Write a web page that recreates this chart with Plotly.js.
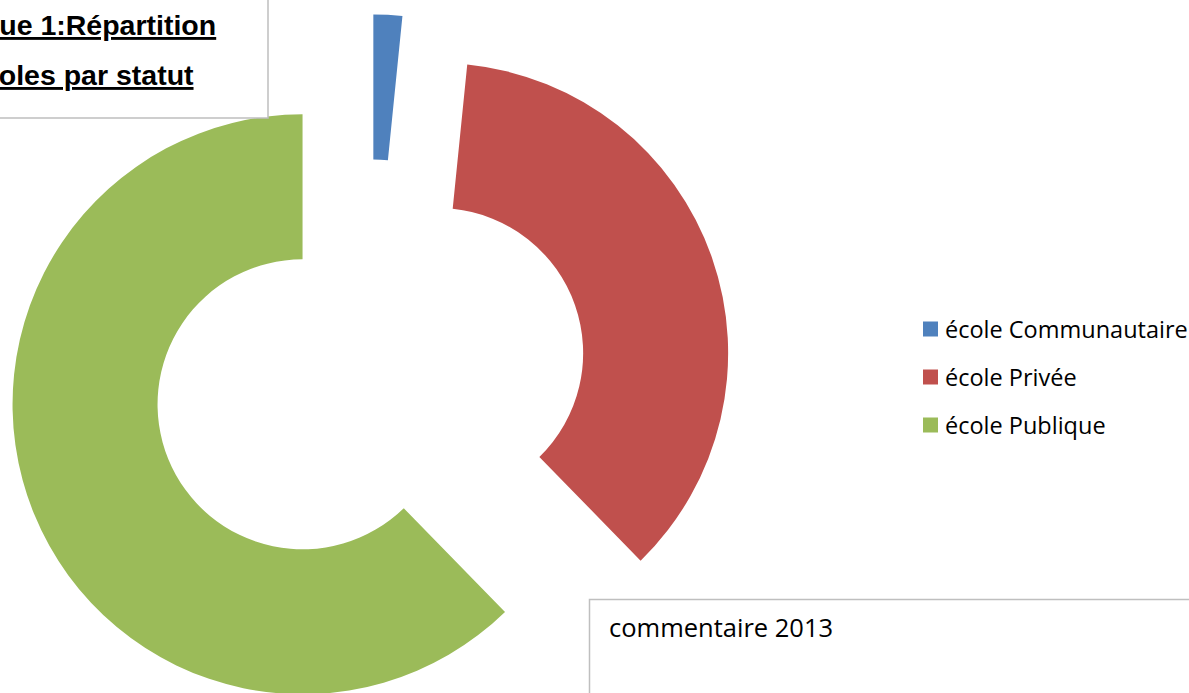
<!DOCTYPE html>
<html>
<head>
<meta charset="utf-8">
<script src="https://cdn.plot.ly/plotly-3.0.1.min.js"></script>
<style>
  html, body { margin: 0; padding: 0; overflow: hidden; background: #fff; }
  #chart { width: 1189px; height: 760px; }
</style>
</head>
<body>
<div id="chart"></div>
<script>
// ---- data ----
const categories = ["école Communautaire", "école Privée", "école Publique"];
const values = [1.6, 36.1, 62.3];
const colors = ["#4F81BD", "#C0504D", "#9BBB59"];
const titleLines = ["Graphique 1:Répartition", "des écoles par statut"];
const commentText = "commentaire 2013";

// ---- layout helpers (pixel -> paper) ----
const W = 1189, H = 760;
const px = v => v / W;
const py = v => 1 - v / H;

// pie box: centre (370,377), radius 290, pull 0.25
const cx = 369.7, cy = 377, R = 290, PULL = 0.25;
const half = R * (1 + PULL);

const trace = {
  type: "pie",
  labels: categories,
  values: values,
  marker: { colors: colors, line: { width: 0 } },
  hole: 0.5,
  sort: false,
  direction: "clockwise",
  rotation: 0,
  pull: categories.map(() => PULL),
  textinfo: "none",
  hoverinfo: "label+percent",
  domain: { x: [px(cx - half), px(cx + half)], y: [py(cy + half), py(cy - half)] },
  showlegend: false
};

const shapes = [
  // title box
  { type: "rect", xref: "paper", yref: "paper", layer: "above",
    x0: px(-144), x1: px(268), y0: py(118), y1: py(-10),
    line: { color: "#BFBFBF", width: 1.5 }, fillcolor: "#FFFFFF" },
  // comment box
  { type: "rect", xref: "paper", yref: "paper", layer: "above",
    x0: px(589.5), x1: px(1250), y0: py(760), y1: py(599.5),
    line: { color: "#BFBFBF", width: 1.5 }, fillcolor: "#FFFFFF" }
];

const annotations = [];
// title lines (right ends as in the reference)
const titleRight = [218, 196];
const titleCenters = [25.2, 74.7];
titleLines.forEach((t, i) => {
  annotations.push({
    xref: "paper", yref: "paper", x: px(titleRight[i]), y: py(titleCenters[i]),
    xanchor: "right", yanchor: "middle", showarrow: false, text: t,
    font: { family: "Liberation Sans, Arial, sans-serif", size: 28.5, color: "#000", weight: "bold", lineposition: "under" }
  });
});
// comment text
annotations.push({
  xref: "paper", yref: "paper", x: px(607), y: py(627.2),
  xanchor: "left", yanchor: "middle", showarrow: false, text: commentText,
  font: { family: "Open Sans, sans-serif", size: 25.5, color: "#000" }
});

// legend (squares + labels)
const legTop = 329, legStep = 48;
categories.forEach((c, i) => {
  const yc = legTop + i * legStep;
  shapes.push({ type: "rect", xref: "paper", yref: "paper", layer: "above",
    x0: px(923), x1: px(938), y0: py(yc + 7.5), y1: py(yc - 7.5),
    line: { width: 0 }, fillcolor: colors[i] });
  annotations.push({
    xref: "paper", yref: "paper", x: px(943), y: py(yc),
    xanchor: "left", yanchor: "middle", showarrow: false, text: c,
    font: { family: "Open Sans, sans-serif", size: 23.5, color: "#000" }
  });
});

const layout = {
  width: W, height: H,
  margin: { l: 0, r: 0, t: 0, b: 0, pad: 0 },
  paper_bgcolor: "#FFFFFF",
  plot_bgcolor: "#FFFFFF",
  showlegend: false,
  shapes: shapes,
  annotations: annotations
};

Plotly.newPlot("chart", [trace], layout, { displayModeBar: false, staticPlot: true });
</script>
</body>
</html>
